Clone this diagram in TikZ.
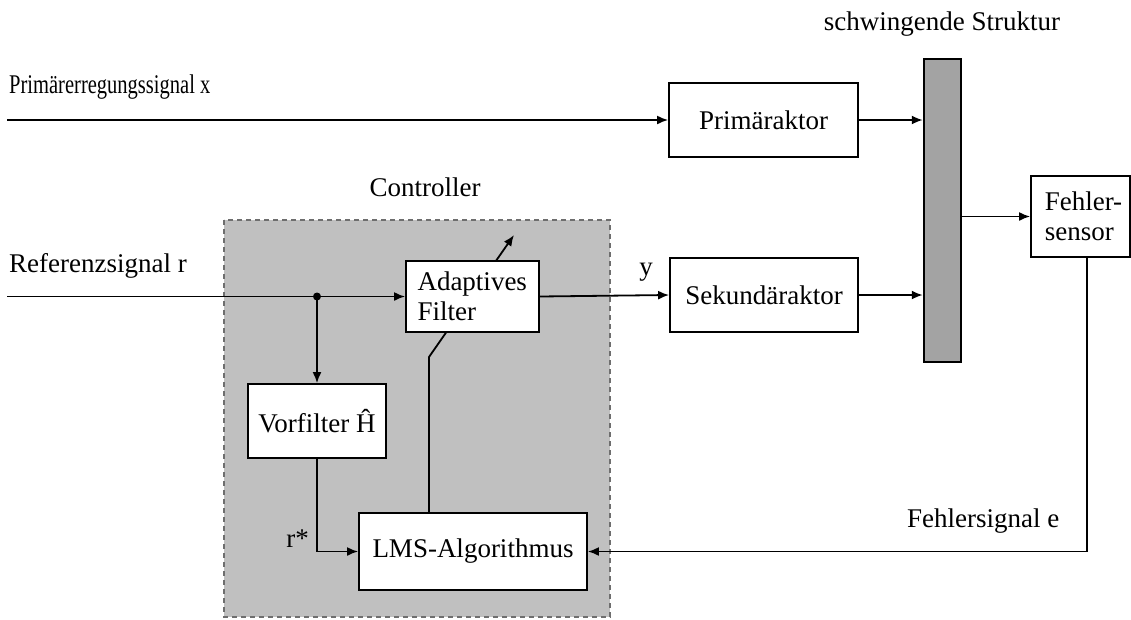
\documentclass[tikz,border=0pt]{standalone}
\usepackage{fontspec}
\setmainfont{Liberation Serif}
\usetikzlibrary{arrows.meta,calc}
\pgfdeclarelayer{back}
\pgfdeclarelayer{mid}
\pgfsetlayers{back,mid,main}
\definecolor{ctrlgray}{HTML}{C0C0C0}
\definecolor{bargray}{HTML}{A3A3A3}
\definecolor{dashgray}{HTML}{6E6E6E}
\tikzset{
  blk/.style={draw=black, fill=white, line width=1.8pt, inner sep=0pt, align=center},
  conn/.style={line width=1.8pt, -{Latex[length=11pt,width=9pt]}},
  wire/.style={line width=1.8pt},
  lbl/.style={inner sep=0pt},
}
\begin{document}
\begin{tikzpicture}[x=1pt,y=-1pt,font=\fontsize{27}{30}\selectfont]
\useasboundingbox (0,0) rectangle (1131,619);
% controller region
\begin{pgfonlayer}{back}
\draw[fill=ctrlgray, draw=dashgray, line width=1.5pt, dash pattern=on 5pt off 4pt] (224,220) rectangle (610,617);
\end{pgfonlayer}
\node[lbl] (ctrl) at (425,187) {Controller};
% blocks
\node[blk, minimum width=189, minimum height=74] (prim) at (763.5,120) {Prim\"araktor};
\node[blk, minimum width=188, minimum height=74] (sek) at (764,295) {Sekund\"araktor};
\node[blk, fill=bargray, line width=2.5pt, minimum width=37, minimum height=303] (bar) at (942.5,210.5) {};
\node[lbl] (struk) at (942,24) {schwingende Struktur};
\node[blk, minimum width=99, minimum height=81, align=left] (fs) at (1080.5,216.5) {\hspace*{6pt}Fehler-\\\hspace*{6pt}sensor};
\node[blk, minimum width=133, minimum height=71, text width=110, align=left] (af) at (472.5,296.5) {Adaptives\\Filter};
\node[blk, minimum width=138, minimum height=74] (vf) at (317,421) {Vorfilter \^{H}};
\node[blk, minimum width=228, minimum height=77] (lms) at (473,551.5) {LMS-Algorithmus};
% labels
\node[lbl, anchor=base west] (lx) at (9,93) {\scalebox{0.76}[1]{Prim\"arerregungssignal x}};
\node[lbl, anchor=base west] (lr) at (9,272) {Referenzsignal r};
\node[lbl, anchor=base] (ly) at (646,275) {y};
\node[lbl, anchor=base east] (lrs) at (309,547) {r*};
\node[lbl, anchor=base west] (le) at (907,527) {Fehlersignal e};
% coordinates
\coordinate (xin) at (7,120);
\coordinate (rin) at (7,296.5);
\coordinate (dot) at (317,296.5);
\coordinate (k) at (429,357);
\coordinate (ae) at (514,235);
\coordinate (fsd) at (1087,551.5);
% connectors
\draw[conn] (xin) -- (prim.west);
\draw[conn] (prim.east) -- (prim.east -| bar.west);
\draw[wire] (rin) -- (dot);
\draw[conn] (dot) -- (af.west);
\fill (dot) circle (4pt);
\draw[conn] (dot) -- (vf.north);
\draw[conn] (af.east) -- (sek.west);
\draw[conn] (sek.east) -- (sek.east -| bar.west);
\draw[conn] (fs.west -| bar.east) -- (fs.west);
\draw[conn] (fs.south -| fsd) -- (fsd) -- (lms.east);
\draw[conn] (vf.south) -- (vf.south |- lms.west) -- (lms.west);
\begin{pgfonlayer}{mid}
\draw[conn] (lms.north -| k) -- (k) -- (ae);
\end{pgfonlayer}
\end{tikzpicture}
\end{document}
